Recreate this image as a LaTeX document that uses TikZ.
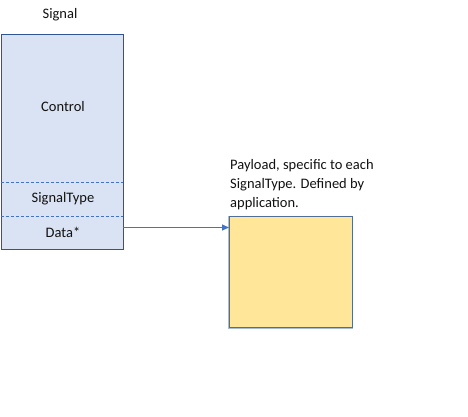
\documentclass[tikz,border=0pt]{standalone}
\usepackage{fontspec}
\setmainfont{Carlito}
\usetikzlibrary{arrows.meta}
\definecolor{sigfill}{HTML}{DAE3F3}
\definecolor{sigline}{HTML}{4472C4}
\definecolor{sigdark}{HTML}{2F5597}
\definecolor{payfill}{HTML}{FFE699}
\definecolor{payline}{HTML}{4F6E99}
\definecolor{payhalo}{HTML}{A9BCD6}
\definecolor{txt}{HTML}{111111}
\tikzset{
  lbl/.style={inner sep=0pt, text=txt, font=\fontsize{14.5pt}{19pt}\selectfont},
  part/.style={inner sep=0pt, minimum width=122.5pt},
}
\begin{document}
\begin{tikzpicture}[x=1pt,y=1pt]
\useasboundingbox (0,0) rectangle (468,416);
% signal box
\node[part, minimum height=215pt, fill=sigfill, draw=sigdark, line width=0.9pt, anchor=south west] (sig) at (0.5,166) {};
\node[part, minimum height=33.5pt, anchor=south west] (data) at (0.5,166) {};
\node[part, minimum height=33.5pt, anchor=south west] (stype) at (0.5,199.5) {};
\draw[sigline, dash pattern=on 3pt off 2pt, line width=0.7pt] (stype.south west) -- (stype.south east);
\draw[sigline, dash pattern=on 3pt off 2pt, line width=0.7pt] (stype.north west) -- (stype.north east);
\node[lbl] (ttl) at (60,401) {Signal};
\node[lbl] (ctl) at (63,309) {Control};
\node[lbl] (st) at (63,217) {SignalType};
\node[lbl] (dt) at (63,184) {Data*};
% payload box
\draw[payhalo, line width=2.4pt] (229,88) rectangle (352,199.3);
\node[inner sep=0pt, minimum width=123pt, minimum height=111.3pt, fill=payfill, draw=payline, line width=0.9pt, anchor=south west] (pay) at (229,88) {};
\node[lbl, anchor=base west, align=left] (ptxt) at (230,209) {Payload, specific to each\\SignalType. Defined by\\application.};
% arrow
\coordinate (a1) at (123,188.5);
\draw[sigline, line width=0.9pt, -{Triangle[length=7pt,width=6pt]}] (a1) -- (a1 -| pay.west);
\end{tikzpicture}
\end{document}
